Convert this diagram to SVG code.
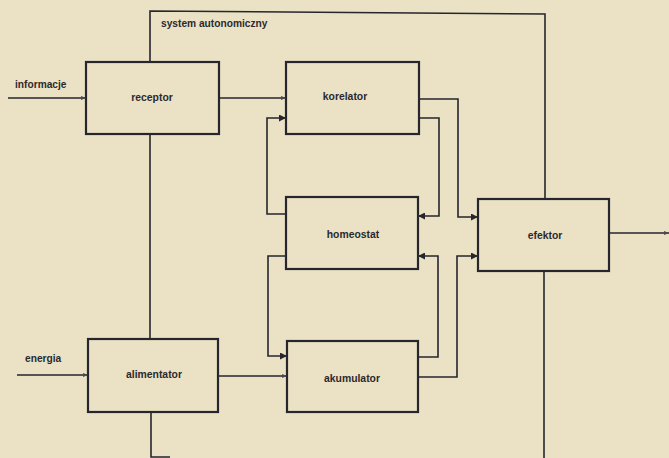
<svg xmlns="http://www.w3.org/2000/svg" width="669" height="458" viewBox="0 0 669 458">
  <style>
    .box { fill: none; stroke: #26262c; stroke-width: 2.2; }
    .wire { fill: none; stroke: #26262c; stroke-width: 1.6; }
    .label { font-family: "Liberation Sans", Arial, sans-serif; font-size: 10.4px; font-weight: bold; fill: #2a2a2e; text-anchor: middle; }
    .side { font-family: "Liberation Sans", Arial, sans-serif; font-size: 10.2px; font-weight: bold; fill: #2a2a2e; }
  </style>
  <defs>
    <marker id="arrow" viewBox="0 0 10 10" refX="10" refY="5" markerWidth="7" markerHeight="7" markerUnits="userSpaceOnUse" orient="auto">
      <path d="M0,0 L10,5 L0,10 z" fill="#26262c"/>
    </marker>
    <marker id="tick" viewBox="0 0 10 10" refX="10" refY="5" markerWidth="5" markerHeight="5" markerUnits="userSpaceOnUse" orient="auto">
      <path d="M0,1 L10,5 L0,9 z" fill="#4a4a50"/>
    </marker>
  </defs>

  <rect width="669" height="458" fill="#ebe2c6"/>

  <!-- autonomous system boundary -->
  <g id="system">
    <polyline class="wire" points="150,62 150,11 545,14 545,198"/>
    <line class="wire" x1="150" y1="134" x2="150" y2="339"/>
    <polyline class="wire" points="151,412 151,457 170,457"/>
    <line class="wire" x1="544" y1="271" x2="544" y2="458"/>
    <text class="side" x="161" y="27">system autonomiczny</text>
  </g>

  <g id="receptor">
    <rect class="box" x="86" y="62" width="133" height="72"/>
    <text class="label" x="152" y="101">receptor</text>
  </g>
  <g id="korelator">
    <rect class="box" x="286" y="62" width="133" height="72"/>
    <text class="label" x="345" y="100">korelator</text>
  </g>
  <g id="homeostat">
    <rect class="box" x="286" y="197" width="132" height="72"/>
    <text class="label" x="353" y="238">homeostat</text>
  </g>
  <g id="efektor">
    <rect class="box" x="478" y="199" width="131" height="72"/>
    <text class="label" x="545" y="239">efektor</text>
  </g>
  <g id="alimentator">
    <rect class="box" x="88" y="339" width="130" height="73"/>
    <text class="label" x="154" y="378">alimentator</text>
  </g>
  <g id="akumulator">
    <rect class="box" x="287" y="341" width="131" height="71"/>
    <text class="label" x="352" y="382">akumulator</text>
  </g>

  <g id="connectors">
    <!-- external inputs and output -->
    <text class="side" x="15" y="88">informacje</text>
    <line class="wire" x1="8" y1="98" x2="86" y2="98" marker-end="url(#tick)"/>
    <text class="side" x="25" y="362">energia</text>
    <line class="wire" x1="17" y1="375" x2="88" y2="375" marker-end="url(#tick)"/>
    <line class="wire" x1="609" y1="233" x2="669" y2="233" marker-end="url(#tick)"/>

    <!-- forward paths -->
    <line class="wire" x1="219" y1="98" x2="286" y2="98" marker-end="url(#tick)"/>
    <line class="wire" x1="218" y1="376" x2="287" y2="376" marker-end="url(#tick)"/>

    <!-- korelator outputs -->
    <polyline class="wire" points="419,99 458,99 458,217 478,217" marker-end="url(#arrow)"/>
    <polyline class="wire" points="419,118 439,118 439,216 418,216" marker-end="url(#arrow)"/>

    <!-- akumulator outputs -->
    <polyline class="wire" points="418,357 438,357 438,256 418,256" marker-end="url(#arrow)"/>
    <polyline class="wire" points="418,377 457,377 457,256 478,256" marker-end="url(#arrow)"/>

    <!-- homeostat feedback -->
    <polyline class="wire" points="286,214 267,214 267,118 286,118" marker-end="url(#arrow)"/>
    <polyline class="wire" points="286,256 268,256 268,356 287,356" marker-end="url(#arrow)"/>
  </g>
</svg>
